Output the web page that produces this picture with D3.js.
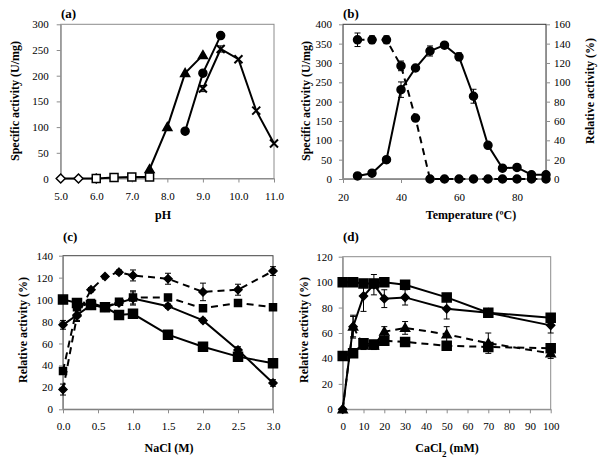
<!DOCTYPE html>
<html><head><meta charset="utf-8">
<script src="https://cdn.jsdelivr.net/npm/d3@7"></script>
<style>body{margin:0;background:#fff} svg{display:block} svg text{font-family:'Liberation Serif','DejaVu Serif',serif !important}</style>
</head><body><svg id="c" width="600" height="460"></svg>
<script>
// ---------- Panel (a): pH ----------
const aXTicks = [5, 6, 7, 8, 9, 10, 11];
const aYTicks = [0, 50, 100, 150, 200, 250, 300];
const aDiamondX = [5.0, 5.5, 6.0], aDiamondY = [0, 0, 0];
const aSquareX = [6.0, 6.5, 7.0, 7.5], aSquareY = [0, 2, 3, 3];
const aTriX = [7.5, 8.0, 8.5, 9.0], aTriY = [18, 100, 205, 240];
const aCircX = [8.5, 9.0, 9.5], aCircY = [92, 205, 278];
const aCrossX = [9.0, 9.5, 10.0, 10.5, 11.0], aCrossY = [175, 252, 232, 132, 68], aCrossErr = [6, 6, 0, 0, 0];

// ---------- Panel (b): temperature ----------
const bXTicks = [20, 40, 60, 80];
const bYTicks = [0, 50, 100, 150, 200, 250, 300, 350, 400];
const bY2Ticks = [0, 20, 40, 60, 80, 100, 120, 140, 160];
const tempX = [25, 30, 35, 40, 45, 50, 55, 60, 65, 70, 75, 80, 85, 90];
const bSpecific = [8, 15, 50, 231, 287, 331, 346, 316, 214, 87, 28, 30, 11, 11];
const bSpecificErr = [3, 3, 3, 20, 5, 13, 5, 10, 18, 5, 3, 3, 3, 3];
const bRelative = [144, 144, 144, 117, 63, 0, 0, 0, 0, 0, 0, 0, 0, 0];
const bRelativeErr = [7, 4, 4, 5, 2, 0, 0, 0, 0, 0, 0, 0, 0, 0];

// ---------- Panel (c): NaCl ----------
const cXTicks = [0, 0.5, 1.0, 1.5, 2.0, 2.5, 3.0];
const cYTicks = [0, 20, 40, 60, 80, 100, 120, 140];
const naclX = [0, 0.2, 0.4, 0.6, 0.8, 1.0, 1.5, 2.0, 2.5, 3.0];
const cSolidDiamond = [77, 86, 95, 93, 97, 101, 94, 81, 54, 24];
const cSolidDiamondErr = [4, 5, 3, 2, 2, 6, 2, 2, 3, 3];
const cSolidSquare = [100, 97, 95, 93, 86, 87, 68, 57, 48, 42];
const cSolidSquareErr = [2, 2, 2, 2, 2, 2, 2, 2, 2, 2];
const cDashedDiamond = [18, 85, 109, 121, 125, 122, 119, 107, 109, 126];
const cDashedDiamondErr = [5, 5, 2, 1, 2, 5, 5, 8, 5, 4];
const cDashedSquare = [35, 93, 97, 93, 98, 102, 102, 92, 97, 93];
const cDashedSquareErr = [3, 2, 2, 2, 3, 6, 2, 2, 2, 2];

// ---------- Panel (d): CaCl2 ----------
const dXTicks = [0, 10, 20, 30, 40, 50, 60, 70, 80, 90, 100];
const dYTicks = [0, 20, 40, 60, 80, 100, 120];
const caX = [0, 5, 10, 15, 20, 30, 50, 70, 100];
const dSolidSquare = [100, 100, 99, 99, 100, 98, 88, 76, 72];
const dSolidSquareErr = [2, 3, 2, 2, 2, 2, 2, 2, 2];
const dSolidDiamond = [0, 65, 89, 98, 87, 88, 79, 76, 66];
const dSolidDiamondErr = [0, 8, 12, 8, 7, 6, 8, 2, 6];
const dDashedTri = [0, 65, 50, 50, 61, 64, 59, 52, 44];
const dDashedTriErr = [0, 9, 3, 3, 4, 5, 6, 8, 4];
const dDashedSquare = [42, 44, 52, 51, 54, 53, 50, 49, 48];
const dDashedSquareErr = [1, 1, 2, 2, 2, 1, 1, 1, 1];

const FONT = "'Liberation Serif','DejaVu Serif',serif";
const svg = d3.select('#c');

function markerPath(shape, s) {
  const p = d3.path();
  if (shape === 'circle') { p.moveTo(s, 0); p.arc(0, 0, s, 0, Math.PI * 2); }
  else if (shape === 'square') { p.rect(-s, -s, 2 * s, 2 * s); }
  else if (shape === 'diamond') { p.moveTo(0, -s); p.lineTo(s, 0); p.lineTo(0, s); p.lineTo(-s, 0); p.closePath(); }
  else if (shape === 'triangle') { p.moveTo(0, -s); p.lineTo(s, s * 0.75); p.lineTo(-s, s * 0.75); p.closePath(); }
  else if (shape === 'cross') { p.moveTo(-s, -s); p.lineTo(s, s); p.moveTo(s, -s); p.lineTo(-s, s); }
  return p.toString();
}

function drawPanel(p) {
  const g = svg.append('g');
  const x = d3.scaleLinear().domain(p.xDomain).range([p.left, p.right]);
  const y = d3.scaleLinear().domain(p.yDomain).range([p.bottom, p.top]);
  const y2 = p.y2Domain ? d3.scaleLinear().domain(p.y2Domain).range([p.bottom, p.top]) : null;
  const ax = '#8c8c8c';

  g.append('rect').attr('x', p.left).attr('y', p.top)
    .attr('width', p.right - p.left).attr('height', p.bottom - p.top)
    .attr('fill', 'none').attr('stroke', p.frame || ax).attr('stroke-width', 1);

  const style = sel => {
    sel.attr('font-family', null).attr('font-size', 11).style('font-family', FONT);
    sel.select('.domain').attr('stroke', ax);
    sel.selectAll('.tick line').attr('stroke', ax);
    sel.selectAll('.tick text').attr('fill', '#000').style('font-family', FONT);
  };
  g.append('g').attr('transform', `translate(0,${p.bottom})`)
    .call(d3.axisBottom(x).tickValues(p.xTicks).tickFormat(p.xFmt).tickSizeInner(4).tickSizeOuter(0).tickPadding(p.xPad))
    .call(style);
  g.append('g').attr('transform', `translate(${p.left},0)`)
    .call(d3.axisLeft(y).tickValues(p.yTicks).tickFormat(d3.format('d')).tickSizeInner(4).tickSizeOuter(0).tickPadding(p.yPad))
    .call(style);
  if (y2) {
    g.append('g').attr('transform', `translate(${p.right},0)`)
      .call(d3.axisRight(y2).tickValues(p.y2Ticks).tickFormat(d3.format('d')).tickSizeInner(4).tickSizeOuter(0).tickPadding(4))
      .call(style);
  }

  p.series.forEach(s => {
    const ys = s.axis === 'right' ? y2 : y;
    const pts = s.xs.map((v, i) => ({ x: v, y: s.ys[i], e: s.errs ? s.errs[i] : 0 }));
    g.append('path').datum(pts)
      .attr('d', d3.line().x(d => x(d.x)).y(d => ys(d.y)))
      .attr('fill', 'none').attr('stroke', '#000').attr('stroke-width', 2)
      .attr('stroke-dasharray', s.dashed ? '7,5' : null);
    const eb = g.append('g').attr('stroke', '#000').attr('stroke-width', 1);
    pts.filter(d => d.e > 0).forEach(d => {
      const cx = x(d.x), y0 = ys(d.y - d.e), y1 = ys(d.y + d.e);
      eb.append('line').attr('x1', cx).attr('x2', cx).attr('y1', y0).attr('y2', y1);
      eb.append('line').attr('x1', cx - 3).attr('x2', cx + 3).attr('y1', y0).attr('y2', y0);
      eb.append('line').attr('x1', cx - 3).attr('x2', cx + 3).attr('y1', y1).attr('y2', y1);
    });
    g.append('g').selectAll('path').data(pts).join('path')
      .attr('transform', d => `translate(${x(d.x)},${ys(d.y)})`)
      .attr('d', markerPath(s.shape, s.size))
      .attr('fill', s.shape === 'cross' ? 'none' : (s.open ? '#fff' : '#000'))
      .attr('stroke', '#000').attr('stroke-width', s.shape === 'cross' ? 2 : 1.5);
  });

  const t = (sel) => sel.style('font-family', FONT).attr('font-weight', 'bold');
  svg.append('text').attr('x', p.labelX).attr('y', p.labelY).text(p.label)
    .call(t).attr('font-size', 13);
  svg.append('text').attr('x', p.xTitleX).attr('y', p.xTitleY).attr('text-anchor', 'middle')
    .call(t).attr('font-size', 12).html(p.xTitle);
  svg.append('text').attr('transform', `translate(${p.yTitleX},${p.yTitleY}) rotate(-90)`)
    .attr('text-anchor', 'middle').call(t).attr('font-size', 12).text(p.yTitle);
  if (p.y2Title) {
    svg.append('text').attr('transform', `translate(${p.y2TitleX},${p.y2TitleY}) rotate(-90)`)
      .attr('text-anchor', 'middle').call(t).attr('font-size', 12).text(p.y2Title);
  }
}

drawPanel({
  left: 60.7, right: 274, top: 24.3, bottom: 178.5,
  xDomain: [5, 11], yDomain: [0, 300], xTicks: aXTicks, yTicks: aYTicks,
  xFmt: d3.format('.1f'), xPad: 10, yPad: 8,
  label: '(a)', labelX: 61, labelY: 18,
  xTitle: 'pH', xTitleX: 163, xTitleY: 219,
  yTitle: 'Specific activity (U/mg)', yTitleX: 19, yTitleY: 101,
  series: [
    { xs: aDiamondX, ys: aDiamondY, shape: 'diamond', size: 4.5, open: true },
    { xs: aSquareX, ys: aSquareY, shape: 'square', size: 4, open: true },
    { xs: aTriX, ys: aTriY, shape: 'triangle', size: 4.5 },
    { xs: aCircX, ys: aCircY, shape: 'circle', size: 4 },
    { xs: aCrossX, ys: aCrossY, errs: aCrossErr, shape: 'cross', size: 4 }
  ]
});

drawPanel({
  left: 343, right: 546, top: 24.3, bottom: 179,
  xDomain: [20, 90], yDomain: [0, 400], y2Domain: [0, 160],
  xTicks: bXTicks, yTicks: bYTicks, y2Ticks: bY2Ticks,
  xFmt: d3.format('d'), xPad: 10, yPad: 7, frame: '#333',
  label: '(b)', labelX: 343, labelY: 18,
  xTitle: 'Temperature (ºC)', xTitleX: 471, xTitleY: 219,
  yTitle: 'Specific activity (U/mg)', yTitleX: 310, yTitleY: 101,
  y2Title: 'Relative activity (%)', y2TitleX: 594, y2TitleY: 91,
  series: [
    { xs: tempX, ys: bRelative, errs: bRelativeErr, axis: 'right', dashed: true, shape: 'circle', size: 4 },
    { xs: tempX, ys: bSpecific, errs: bSpecificErr, shape: 'circle', size: 4 }
  ]
});

drawPanel({
  left: 63, right: 273, top: 255.7, bottom: 409.3,
  xDomain: [0, 3], yDomain: [0, 140], xTicks: cXTicks, yTicks: cYTicks,
  xFmt: d3.format('.1f'), xPad: 9, yPad: 6, frame: '#444',
  label: '(c)', labelX: 63, labelY: 241,
  xTitle: 'NaCl (M)', xTitleX: 169, xTitleY: 452,
  yTitle: 'Relative activity (%)', yTitleX: 27, yTitleY: 330,
  series: [
    { xs: naclX, ys: cDashedSquare, errs: cDashedSquareErr, dashed: true, shape: 'square', size: 3.5 },
    { xs: naclX, ys: cDashedDiamond, errs: cDashedDiamondErr, dashed: true, shape: 'diamond', size: 4 },
    { xs: naclX, ys: cSolidSquare, errs: cSolidSquareErr, shape: 'square', size: 4.5 },
    { xs: naclX, ys: cSolidDiamond, errs: cSolidDiamondErr, shape: 'diamond', size: 4 }
  ]
});

drawPanel({
  left: 342.7, right: 550.7, top: 256.7, bottom: 409.3,
  xDomain: [0, 100], yDomain: [0, 120], xTicks: dXTicks, yTicks: dYTicks,
  xFmt: d3.format('d'), xPad: 9, yPad: 6,
  label: '(d)', labelX: 343, labelY: 241,
  xTitle: 'CaCl<tspan baseline-shift="sub" font-size="9">2</tspan> (mM)', xTitleX: 447, xTitleY: 452,
  yTitle: 'Relative activity (%)', yTitleX: 308, yTitleY: 330,
  series: [
    { xs: caX, ys: dDashedSquare, errs: dDashedSquareErr, dashed: true, shape: 'square', size: 4.5 },
    { xs: caX, ys: dDashedTri, errs: dDashedTriErr, dashed: true, shape: 'triangle', size: 4.5 },
    { xs: caX, ys: dSolidSquare, errs: dSolidSquareErr, shape: 'square', size: 4.5 },
    { xs: caX, ys: dSolidDiamond, errs: dSolidDiamondErr, shape: 'diamond', size: 4 }
  ]
});
</script></body></html>
